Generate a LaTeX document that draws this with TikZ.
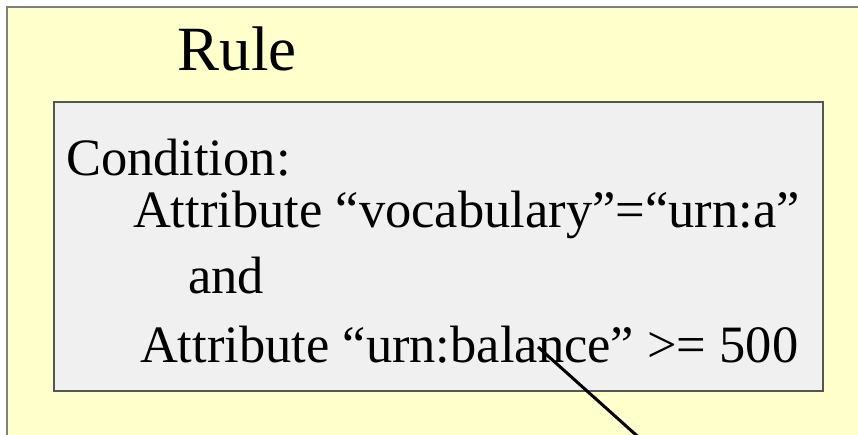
\documentclass[tikz,border=0pt]{standalone}
\usepackage{fontspec}
\setmainfont{Liberation Serif}
\definecolor{rulebg}{HTML}{FFFFCC}
\definecolor{condbg}{HTML}{F0F0F0}
\definecolor{outerline}{HTML}{7F7F7F}
\definecolor{innerline}{HTML}{555555}
\begin{document}
\begin{tikzpicture}[x=1pt,y=-1pt,
  txt/.style={anchor=base west,inner sep=0pt,outer sep=0pt,font=\fontsize{52.5}{58}\selectfont},
  pointer/.style={draw=black,line width=3pt}]
\clip (0,0) rectangle (858,434);
\useasboundingbox (0,0) rectangle (858,434);
\fill[white] (0,0) rectangle (858,434);
% outer rule box
\draw[fill=rulebg,draw=outerline,line width=1.6pt] (7,7) rectangle (880,460);
\node[anchor=base,inner sep=0pt,font=\fontsize{63}{70}\selectfont] (rule) at (237,70) {Rule};
% condition box
\draw[fill=condbg,draw=innerline,line width=1.4pt] (54,102) rectangle (823,391);
\node[txt] (cond) at (66,175) {Condition:};
\node[txt] (a1) at (133,227) {Attribute “vocabulary”=“urn:a”};
\node[txt] (and) at (188,293) {and};
\node[txt] (a2) at (140,362) {Attribute “urn:balance” >= 500};
\coordinate (lstart) at (538,347);
\coordinate (lend) at (645,443);
\draw[pointer] (lstart) -- (lend);
\end{tikzpicture}
\end{document}
